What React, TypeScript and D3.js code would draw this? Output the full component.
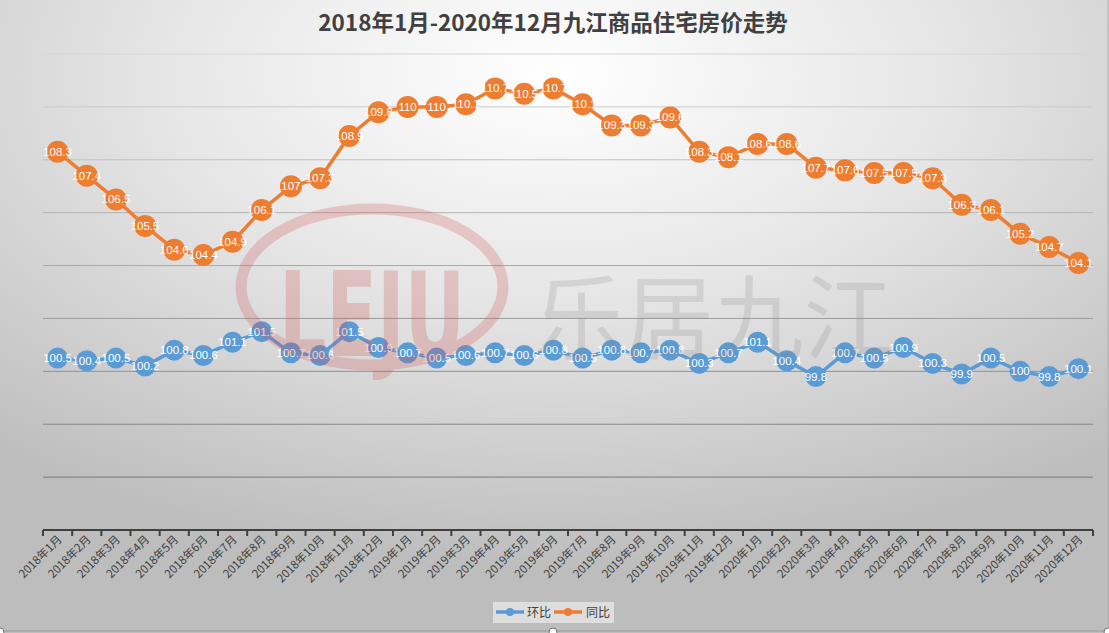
import React from "react";
import * as d3 from "d3";

const months: string[] = [
  "2018年1月","2018年2月","2018年3月","2018年4月","2018年5月","2018年6月","2018年7月","2018年8月","2018年9月","2018年10月","2018年11月","2018年12月",
  "2019年1月","2019年2月","2019年3月","2019年4月","2019年5月","2019年6月","2019年7月","2019年8月","2019年9月","2019年10月","2019年11月","2019年12月",
  "2020年1月","2020年2月","2020年3月","2020年4月","2020年5月","2020年6月","2020年7月","2020年8月","2020年9月","2020年10月","2020年11月","2020年12月",
];

const huanbi: number[] = [
  100.5, 100.4, 100.5, 100.2, 100.8, 100.6, 101.1, 101.5, 100.7, 100.6, 101.5, 100.9,
  100.7, 100.5, 100.6, 100.7, 100.6, 100.8, 100.5, 100.8, 100.7, 100.8, 100.3, 100.7,
  101.1, 100.4, 99.8, 100.7, 100.5, 100.9, 100.3, 99.9, 100.5, 100, 99.8, 100.1,
];

const tongbi: number[] = [
  108.3, 107.4, 106.5, 105.5, 104.6, 104.4, 104.9, 106.1, 107, 107.3, 108.9, 109.8,
  110, 110, 110.1, 110.7, 110.5, 110.7, 110.1, 109.3, 109.3, 109.6, 108.3, 108.1,
  108.6, 108.6, 107.7, 107.6, 107.5, 107.5, 107.3, 106.3, 106.1, 105.2, 104.7, 104.1,
];

const yTicks: number[] = [96, 98, 100, 102, 104, 106, 108, 110, 112];
const title = "2018年1月-2020年12月九江商品住宅房价走势";
const seriesNames = ["环比", "同比"];

const W = 1109;
const H = 633;
const BLUE = "#5b9bd5";
const ORANGE = "#ed7d31";

export default function App() {
  const x = d3.scaleBand<string>().domain(months).range([43, 1093]).padding(0);
  const y = d3.scaleLinear().domain([94, 112]).range([530, 54]);
  const cx = (m: string) => (x(m) as number) + x.bandwidth() / 2;
  const line = d3
    .line<number>()
    .x((_, i) => cx(months[i]))
    .y((d) => y(d));
  const gridColor = d3.interpolateRgb("#d6d6d6", "#7a7a7a");
  const series = [
    { name: seriesNames[0], values: huanbi, color: BLUE, r: 10.5 },
    { name: seriesNames[1], values: tongbi, color: ORANGE, r: 11 },
  ];
  const boundaries = d3.range(months.length + 1).map((i) => 43 + i * x.bandwidth());

  return (
    <svg
      width={W}
      height={H}
      style={{ position: "absolute", left: 0, top: 0 }}
      fontFamily="'Liberation Sans', Arial, sans-serif"
    >
      <defs>
        <radialGradient id="bg" cx="0.5" cy="0.12" r="0.78" fx="0.5" fy="0.12">
          <stop offset="0" stopColor="#ffffff" />
          <stop offset="0.45" stopColor="#e6e6e6" />
          <stop offset="1" stopColor="#bdbdbd" />
        </radialGradient>
      </defs>
      <rect x={0} y={0} width={W} height={H} fill="url(#bg)" />
      <line x1={0} x2={W} y1={631} y2={631} stroke="#9a9a9a" strokeWidth={1} />
      <line x1={1108} x2={1108} y1={0} y2={631} stroke="#b0b0b0" strokeWidth={1} />

      <text
        x={553}
        y={31}
        textAnchor="middle"
        fontFamily="'Noto Sans CJK SC', sans-serif"
        fontWeight="bold"
        fontSize={22.5}
        fill="#404040"
      >
        {title}
      </text>

      {yTicks.map((t) => (
        <line
          key={t}
          x1={43}
          x2={1093}
          y1={y(t)}
          y2={y(t)}
          stroke={gridColor((112 - t) / 16)}
          strokeWidth={1}
        />
      ))}

      <line x1={43} x2={1093} y1={y(94)} y2={y(94)} stroke="#404040" strokeWidth={2.2} />
      {boundaries.map((bx, i) => (
        <line key={i} x1={bx} x2={bx} y1={y(94)} y2={y(94) + 6} stroke="#404040" strokeWidth={2} />
      ))}
      {months.map((m) => (
        <text
          key={m}
          transform={`translate(${cx(m) + 5},${540}) rotate(-45)`}
          textAnchor="end"
          fontFamily="'Noto Sans CJK SC', sans-serif"
          fontSize={11.5}
          fill="#404040"
        >
          {m}
        </text>
      ))}

      {series.map((s) => (
        <g key={s.name}>
          <path d={line(s.values) || ""} fill="none" stroke={s.color} strokeWidth={3.5} />
          {s.values.map((v, i) => (
            <circle key={i} cx={cx(months[i])} cy={y(v)} r={s.r} fill={s.color} />
          ))}
          {s.values.map((v, i) => (
            <text
              key={"t" + i}
              x={cx(months[i])}
              y={y(v)}
              dy="0.35em"
              textAnchor="middle"
              fontSize={11.5}
              fill="#ffffff"
            >
              {String(v)}
            </text>
          ))}
        </g>
      ))}

      {/* watermark */}
      <g opacity={0.25} pointerEvents="none">
        <ellipse cx={372} cy={287} rx={131} ry={78} fill="none" stroke="#d05050" strokeWidth={11} />
        <text
          x={372}
          y={356}
          textAnchor="middle"
          fontFamily="'Liberation Sans Narrow', 'DejaVu Sans Condensed', sans-serif"
          fontWeight="bold"
          fontSize={118}
          fill="#d05050"
          textLength={186}
          lengthAdjust="spacingAndGlyphs"
        >
          LEJU
        </text>
      </g>
      <text
        x={535}
        y={352}
        fontFamily="'Noto Sans CJK SC', sans-serif"
        fontSize={92}
        fill="#8c8c8c"
        opacity={0.22}
        textLength={358}
        lengthAdjust="spacingAndGlyphs"
      >
        乐居九江
      </text>

      {/* legend */}
      <rect x={493} y={602} width={121} height={21} fill="#e6e6e6" opacity={0.8} />
      <line x1={496} x2={524} y1={612} y2={612} stroke={BLUE} strokeWidth={3.5} />
      <circle cx={510} cy={612} r={4} fill={BLUE} />
      <text x={527} y={616.5} fontFamily="'Noto Sans CJK SC', sans-serif" fontSize={12} fill="#404040">
        {seriesNames[0]}
      </text>
      <line x1={554} x2={582} y1={612} y2={612} stroke={ORANGE} strokeWidth={3.5} />
      <circle cx={568} cy={612} r={4} fill={ORANGE} />
      <text x={586} y={616.5} fontFamily="'Noto Sans CJK SC', sans-serif" fontSize={12} fill="#404040">
        {seriesNames[1]}
      </text>

      {/* selection handles */}
      {[
        [553, 632],
        [0, 632],
        [1108, 632],
      ].map(([hx, hy], i) => (
        <circle key={i} cx={hx} cy={hy} r={4} fill="#ffffff" stroke="#707070" strokeWidth={1} />
      ))}
    </svg>
  );
}
